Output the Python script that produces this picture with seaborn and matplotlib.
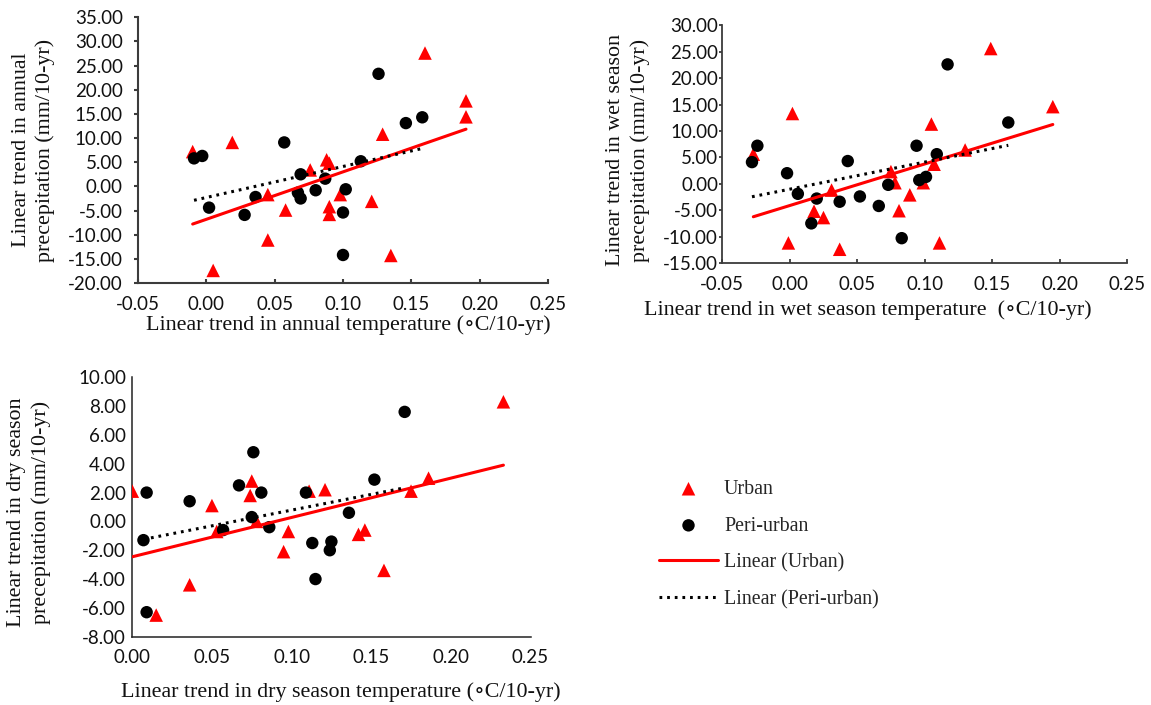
import numpy as np
import pandas as pd
import matplotlib
matplotlib.use("Agg")
import matplotlib.pyplot as plt
from matplotlib.ticker import FuncFormatter, MultipleLocator
import seaborn as sns

# Annual trends
annual_urban_temp = [-0.010, 0.019, 0.005, 0.045, 0.045, 0.058, 0.076, 0.088, 0.090, 0.090,
                     0.090, 0.098, 0.121, 0.129, 0.135, 0.160, 0.190, 0.190]
annual_urban_prec = [7.2, 9.1, -17.4, -1.7, -11.1, -4.9, 3.4, 5.5, 4.8, -4.2,
                     -5.8, -1.7, -3.1, 10.8, -14.3, 27.6, 17.7, 14.4]
annual_peri_temp = [-0.009, -0.003, 0.002, 0.028, 0.036, 0.057, 0.067, 0.069, 0.069, 0.080,
                    0.087, 0.102, 0.100, 0.100, 0.113, 0.126, 0.146, 0.158]
annual_peri_prec = [5.8, 6.3, -4.4, -5.9, -2.2, 9.1, -1.3, -2.5, 2.5, -0.8,
                    1.6, -0.6, -5.4, -14.2, 5.2, 23.3, 13.1, 14.3]

# Wet season trends
wet_urban_temp = [-0.027, 0.002, -0.001, 0.018, 0.025, 0.031, 0.037, 0.075, 0.078, 0.081,
                  0.089, 0.099, 0.105, 0.107, 0.111, 0.130, 0.149, 0.195]
wet_urban_prec = [5.6, 13.3, -11.2, -5.2, -6.4, -1.2, -12.4, 2.3, 0.2, -5.1,
                  -2.1, 0.2, 11.3, 3.7, -11.2, 6.4, 25.6, 14.6]
wet_peri_temp = [-0.028, -0.024, -0.002, 0.006, 0.016, 0.020, 0.037, 0.043, 0.052, 0.066,
                 0.073, 0.083, 0.094, 0.096, 0.101, 0.109, 0.117, 0.162]
wet_peri_prec = [4.1, 7.2, 2.0, -1.9, -7.5, -2.8, -3.4, 4.3, -2.4, -4.2,
                 -0.2, -10.3, 7.2, 0.7, 1.3, 5.6, 22.6, 11.6]

# Dry season trends
dry_urban_temp = [0.000, 0.015, 0.036, 0.050, 0.053, 0.075, 0.074, 0.078, 0.095, 0.098,
                  0.111, 0.121, 0.142, 0.146, 0.158, 0.175, 0.186, 0.233]
dry_urban_prec = [2.1, -6.5, -4.4, 1.1, -0.7, 2.8, 1.8, 0.0, -2.1, -0.7,
                  2.1, 2.2, -0.9, -0.6, -3.4, 2.1, 3.0, 8.3]
dry_peri_temp = [0.007, 0.009, 0.009, 0.036, 0.057, 0.067, 0.075, 0.076, 0.081, 0.086,
                 0.109, 0.113, 0.115, 0.125, 0.124, 0.136, 0.152, 0.171]
dry_peri_prec = [-1.3, 2.0, -6.3, 1.4, -0.6, 2.5, 0.3, 4.8, 2.0, -0.4,
                 2.0, -1.5, -4.0, -1.4, -2.0, 0.6, 2.9, 7.6]

group_names = ["Urban", "Peri-urban"]
fit_names = ["Linear (Urban)", "Linear (Peri-urban)"]

panel_xlabels = [
    "Linear trend in annual temperature (\u2218C/10-yr)",
    "Linear trend in wet season temperature  (\u2218C/10-yr)",
    "Linear trend in dry season temperature (\u2218C/10-yr)",
]
panel_ylabels = [
    "Linear trend in annual\nprecepitation (mm/10-yr)",
    "Linear trend in wet season\nprecepitation (mm/10-yr)",
    "Linear trend in dry season\nprecepitation (mm/10-yr)",
]

sns.set_theme(style="white")
serif = ["Liberation Serif", "DejaVu Serif"]
tick_font = "Lato"

W, H = 1151, 705
fig = plt.figure(figsize=(W / 100, H / 100), dpi=100)


def box(l, t, r, b):
    return [l / W, 1 - b / H, (r - l) / W, (b - t) / H]


ax1 = fig.add_axes(box(138, 17.3, 548, 283))
ax2 = fig.add_axes(box(722.3, 25.3, 1127, 263))
ax3 = fig.add_axes(box(132.3, 377.3, 530.5, 636.7))

panels = [
    (ax1, annual_urban_temp, annual_urban_prec, annual_peri_temp, annual_peri_prec),
    (ax2, wet_urban_temp, wet_urban_prec, wet_peri_temp, wet_peri_prec),
    (ax3, dry_urban_temp, dry_urban_prec, dry_peri_temp, dry_peri_prec),
]

red = "#FF0000"
for ax, ux, uy, px, py in panels:
    du = pd.DataFrame({"t": ux, "p": uy})
    dp = pd.DataFrame({"t": px, "p": py})
    sns.scatterplot(data=du, x="t", y="p", ax=ax, marker="^", s=95, color=red,
                    edgecolor="none", label=group_names[0], zorder=3, legend=False)
    sns.scatterplot(data=dp, x="t", y="p", ax=ax, marker="o", s=80, color="black",
                    edgecolor="none", label=group_names[1], zorder=4, legend=False)
    sns.regplot(data=du, x="t", y="p", ax=ax, scatter=False, ci=None, truncate=True,
                label=fit_names[0], line_kws=dict(color=red, lw=2.2, zorder=5))
    sns.regplot(data=dp, x="t", y="p", ax=ax, scatter=False, ci=None, truncate=True,
                label=fit_names[1],
                line_kws=dict(color="black", lw=2.2, ls=(0, (0.9, 1.6)), zorder=6))
    if ax.get_legend() is not None:
        ax.get_legend().remove()

fmt = FuncFormatter(lambda v, pos: f"{v:.2f}")
settings = [
    # ax, xlim, ylim, ystep, xstep, ytick pad, ytick len, xtick len, spine color, spine lw
    (ax1, (-0.05, 0.25), (-20, 35), 5, 0.05, 8.0, 3.0, 3.0, "#3c3c3c", 1.5),
    (ax2, (-0.05, 0.25), (-15, 30), 5, 0.05, 1.0, 2.0, 3.0, "#3c3c3c", 1.3),
    (ax3, (0.0, 0.25), (-8, 10), 2, 0.05, 4.5, 0.0, 0.0, "#222222", 1.1),
]
for ax, xl, yl, ys, xs, ypad, ylen, xlen, sc, slw in settings:
    ax.set_xlim(*xl)
    ax.set_ylim(*yl)
    ax.xaxis.set_major_locator(MultipleLocator(xs))
    ax.yaxis.set_major_locator(MultipleLocator(ys))
    ax.xaxis.set_major_formatter(fmt)
    ax.yaxis.set_major_formatter(fmt)
    for side in ("top", "right"):
        ax.spines[side].set_visible(False)
    for side in ("left", "bottom"):
        ax.spines[side].set_color(sc)
        ax.spines[side].set_linewidth(slw)
    ax.tick_params(axis="x", direction="in", length=xlen, width=slw, color=sc,
                   pad=9, labelsize=13.5, labelcolor="#111111", bottom=True)
    ax.tick_params(axis="y", direction="out", length=ylen, width=slw, color=sc,
                   pad=ypad, labelsize=13.5, labelcolor="#111111", left=True)
    for lab in ax.get_xticklabels() + ax.get_yticklabels():
        lab.set_fontfamily(tick_font)
    ax.grid(False)
    ax.set_facecolor("white")

label_pos = [
    ((0.512, -0.158), (-0.255, 0.50)),
    ((0.36, -0.198), (-0.234, 0.475)),
    ((0.523, -0.2155), (-0.26, 0.48)),
]
for (ax, *_), xlab, ylab, (xp, yp) in zip(panels, panel_xlabels, panel_ylabels, label_pos):
    ax.set_xlabel(xlab, fontfamily=serif, fontsize=15.8, color="#111111")
    ax.set_ylabel(ylab, fontfamily=serif, fontsize=15.8, color="#111111",
                  linespacing=1.35, multialignment="center")
    ax.xaxis.set_label_coords(*xp)
    ax.yaxis.set_label_coords(*yp)
    ax.xaxis.label.set_verticalalignment("center")
    ax.yaxis.label.set_verticalalignment("center")

handles, labels = ax1.get_legend_handles_labels()
order = [labels.index(n) for n in group_names + fit_names]
fig.legend([handles[i] for i in order], [labels[i] for i in order],
           loc="upper left", bbox_to_anchor=(659 / W, 1 - 480 / H),
           frameon=False, borderpad=0, borderaxespad=0, handlelength=2.95,
           handletextpad=0.3, labelspacing=0.88,
           prop=dict(family=serif, size=14.4))

fig.savefig("out.png", dpi=100, facecolor="white")
